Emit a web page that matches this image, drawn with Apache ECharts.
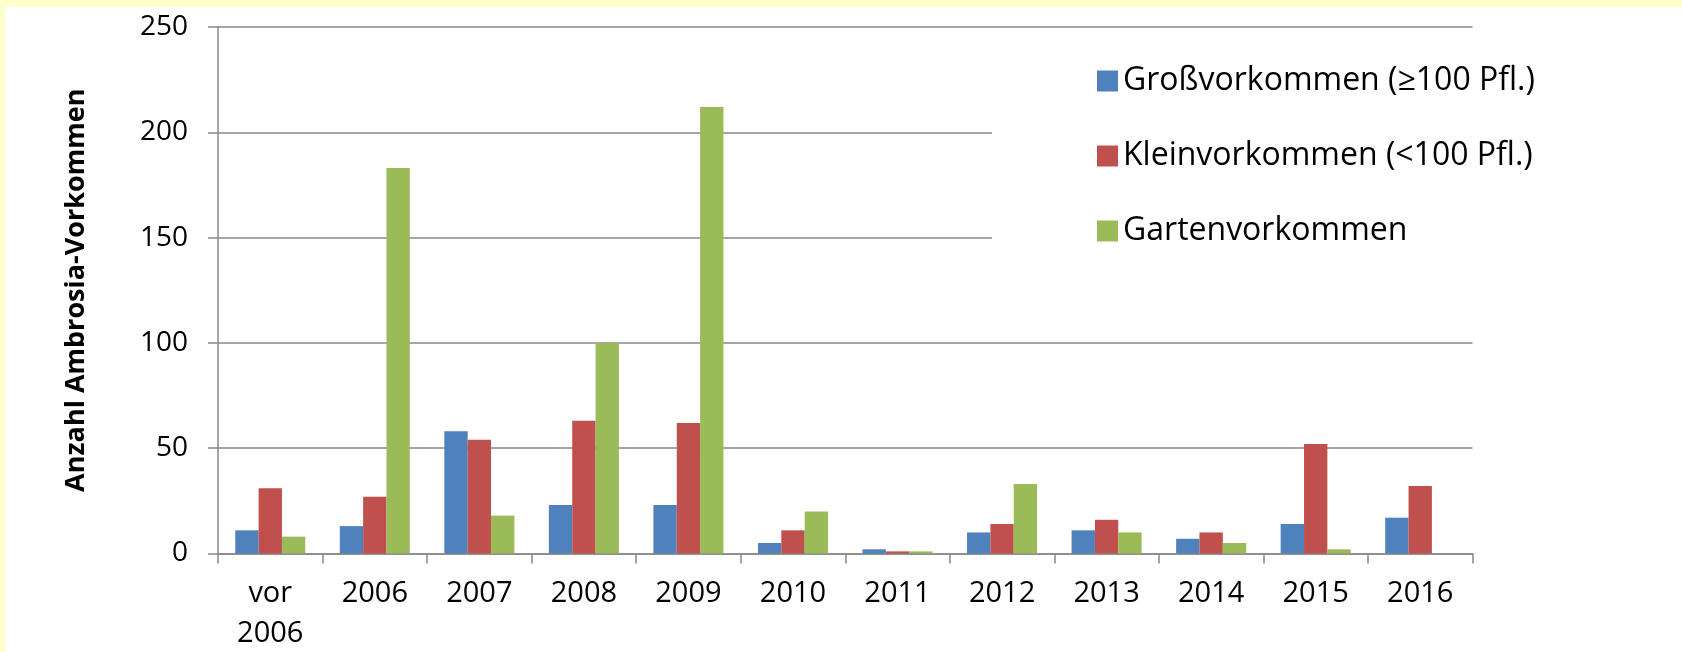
<!DOCTYPE html>
<html>
<head>
<meta charset="utf-8">
<script src="https://cdn.jsdelivr.net/npm/echarts@6/dist/echarts.min.js"></script>
<style>
  html, body { margin: 0; padding: 0; background: #ffffcc; }
  #main { width: 1682px; height: 652px; }
</style>
</head>
<body>
<div id="main"></div>
<script>
// Kategorien (Jahre)
var categories = ['vor\n2006', '2006', '2007', '2008', '2009', '2010', '2011', '2012', '2013', '2014', '2015', '2016']

// Anzahl Vorkommen je Jahr
var grossVorkommen = [11, 13, 58, 23, 23, 5, 2, 10, 11, 7, 14, 17]
var kleinVorkommen = [31, 27, 54, 63, 62, 11, 1, 14, 16, 10, 52, 32]
var gartenVorkommen = [8, 183, 18, 100, 212, 20, 1, 33, 10, 5, 2, 0]

var seriesNames = ['Großvorkommen (≥100 Pfl.)', 'Kleinvorkommen (<100 Pfl.)', 'Gartenvorkommen']
var yTicks = { min: 0, max: 250, interval: 50 }

var font = '"Open Sans", "Noto Sans", sans-serif'
var grey = '#888888'

var myChart = echarts.init(document.getElementById('main'))

var option = {
  backgroundColor: '#ffffcc',
  animation: false,
  color: ['#4f81bd', '#c0504d', '#9bbb59'],
  textStyle: { fontFamily: font },
  // weisse Flaeche innerhalb des gelben Rands
  graphic: [
    {
      type: 'rect',
      z: -10,
      shape: { x: 5, y: 7, width: 1677, height: 645 },
      style: { fill: '#ffffff' }
    }
  ],
  grid: {
    left: 218,
    right: 209.5,
    top: 27,
    bottom: 98.5,
    outerBoundsMode: 'none'
  },
  legend: {
    orient: 'vertical',
    left: 992,
    top: 40,
    padding: [25, 20, 54, 105],
    backgroundColor: '#ffffff',
    icon: 'rect',
    itemWidth: 21,
    itemHeight: 21,
    itemGap: 43,
    textStyle: {
      fontFamily: font,
      fontSize: 32,
      lineHeight: 32,
      color: '#000000'
    },
    data: seriesNames
  },
  xAxis: {
    type: 'category',
    data: categories,
    axisLine: { lineStyle: { color: grey, width: 1.5 } },
    axisTick: { show: true, interval: 0, length: 10, lineStyle: { color: grey, width: 1.5 } },
    axisLabel: {
      interval: 0,
      margin: 20,
      fontSize: 29,
      lineHeight: 40,
      color: '#000000',
      fontFamily: font
    },
    splitLine: { show: false }
  },
  yAxis: {
    type: 'value',
    min: yTicks.min,
    max: yTicks.max,
    interval: yTicks.interval,
    name: 'Anzahl Ambrosia-Vorkommen',
    nameLocation: 'middle',
    nameGap: 128,
    nameTextStyle: {
      fontFamily: font,
      fontSize: 27,
      fontWeight: 'bold',
      color: '#000000'
    },
    axisLine: { show: true, lineStyle: { color: grey, width: 1.5 } },
    axisTick: { show: true, length: 10, lineStyle: { color: grey, width: 1.5 } },
    axisLabel: {
      margin: 30,
      fontSize: 28,
      color: '#000000',
      fontFamily: font
    },
    splitLine: { lineStyle: { color: grey, width: 1.5 } }
  },
  series: [
    { name: seriesNames[0], type: 'bar', data: grossVorkommen, barGap: 0, barCategoryGap: '33%' },
    { name: seriesNames[1], type: 'bar', data: kleinVorkommen, barGap: 0, barCategoryGap: '33%' },
    { name: seriesNames[2], type: 'bar', data: gartenVorkommen, barGap: 0, barCategoryGap: '33%' }
  ]
}

myChart.setOption(option)
</script>
</body>
</html>
